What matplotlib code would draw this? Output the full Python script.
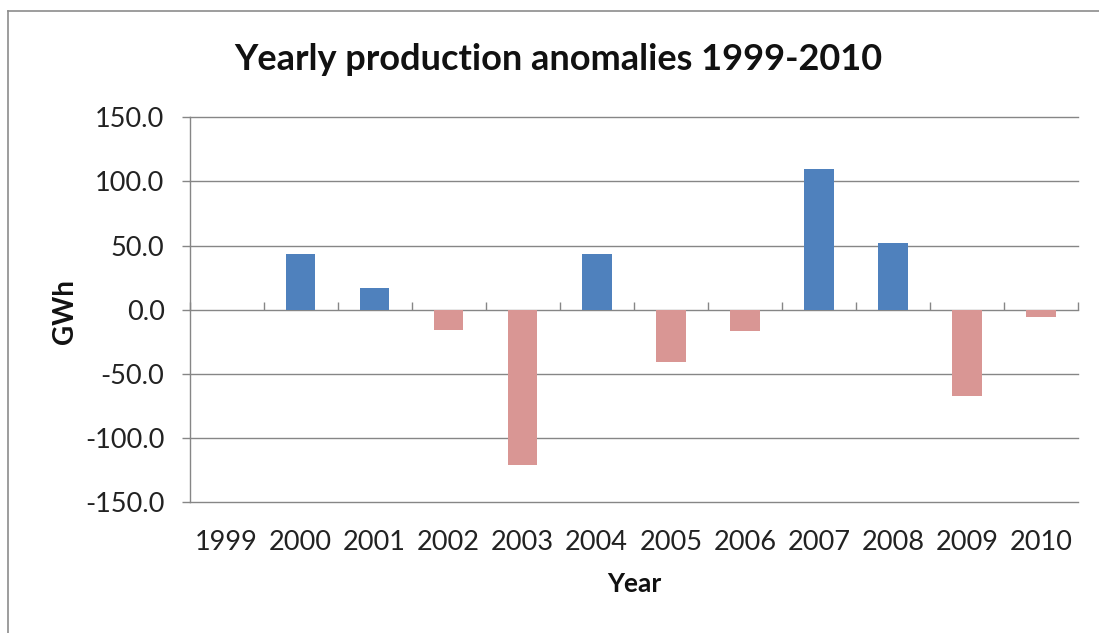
import matplotlib
matplotlib.use("Agg")
import matplotlib.pyplot as plt
from matplotlib.lines import Line2D
from matplotlib.ticker import FormatStrFormatter, FixedLocator

years = ["1999", "2000", "2001", "2002", "2003", "2004",
         "2005", "2006", "2007", "2008", "2009", "2010"]
anomaly_gwh = [0.0, 43.7, 16.8, -15.5, -121.0, 43.7,
               -41.0, -16.9, 109.8, 51.8, -67.1, -5.7]
y_ticks = [-150, -100, -50, 0, 50, 100, 150]

POS_COLOR = "#4F81BD"
NEG_COLOR = "#D99694"
GRID_COLOR = "#868686"
FRAME_COLOR = "#8c8c8c"

plt.rcParams["font.family"] = ["Lato", "DejaVu Sans"]

W, H = 1099, 633
fig = plt.figure(figsize=(W / 100, H / 100), dpi=100)
fig.patch.set_facecolor("white")

# chart frame: left and top edges
fx, fy = 8.3 / W, 1 - 10.7 / H
fig.add_artist(Line2D([fx, fx], [0, fy], transform=fig.transFigure,
                      color=FRAME_COLOR, linewidth=1.2))
fig.add_artist(Line2D([fx, 1], [fy, fy], transform=fig.transFigure,
                      color=FRAME_COLOR, linewidth=1.2))

ax = fig.add_axes([189.5 / W, 1 - 502 / H,
                   (1078 - 189.5) / W, (502 - 117.3) / H])

x = list(range(len(years)))
colors = [POS_COLOR if v >= 0 else NEG_COLOR for v in anomaly_gwh]
ax.bar(x, anomaly_gwh, width=0.4, color=colors, zorder=3)

ax.set_xlim(-0.5, len(years) - 0.5)
ax.set_ylim(-150, 150)
ax.set_yticks(y_ticks)
ax.yaxis.set_major_formatter(FormatStrFormatter("%.1f"))
ax.grid(axis="y", color=GRID_COLOR, linewidth=1.0, zorder=1)
ax.set_axisbelow(True)

for side in ("top", "right", "bottom"):
    ax.spines[side].set_visible(False)
ax.spines["left"].set_color(GRID_COLOR)
ax.spines["left"].set_linewidth(1.0)

ax.tick_params(axis="y", length=6, width=1.0, color=GRID_COLOR,
               labelsize=19.5, pad=12, labelcolor="#222222")
ax.set_xticks(x)
ax.set_xticklabels(years)
ax.tick_params(axis="x", length=0, labelsize=19.5, pad=20,
               labelcolor="#222222")

# category axis drawn along the zero line with boundary tick marks
sec = ax.secondary_xaxis(0.5)
sec.xaxis.set_major_locator(FixedLocator([i - 0.5 for i in range(len(years) + 1)]))
sec.tick_params(axis="x", direction="out", length=6, width=1.0,
                color=GRID_COLOR, labelbottom=False, labeltop=False)
sec.spines["bottom"].set_color(GRID_COLOR)
sec.spines["bottom"].set_linewidth(1.0)
for side in ("top", "left", "right"):
    sec.spines[side].set_visible(False)

fig.canvas.draw()
for gl in ax.get_ygridlines():
    gl.set_clip_on(False)

fig.text(558 / W, 1 - 60 / H, "Yearly production anomalies 1999-2010",
         ha="center", va="center", fontsize=26, fontweight="bold",
         color="#111111")
fig.text(634 / W, 1 - 584 / H, "Year", ha="center", va="center",
         fontsize=19, fontweight="bold", color="#111111")
fig.text(65 / W, 1 - 312 / H, "GWh", ha="center", va="center",
         rotation=90, fontsize=20, fontweight="bold", color="#111111")

fig.savefig("out.png", dpi=100)
